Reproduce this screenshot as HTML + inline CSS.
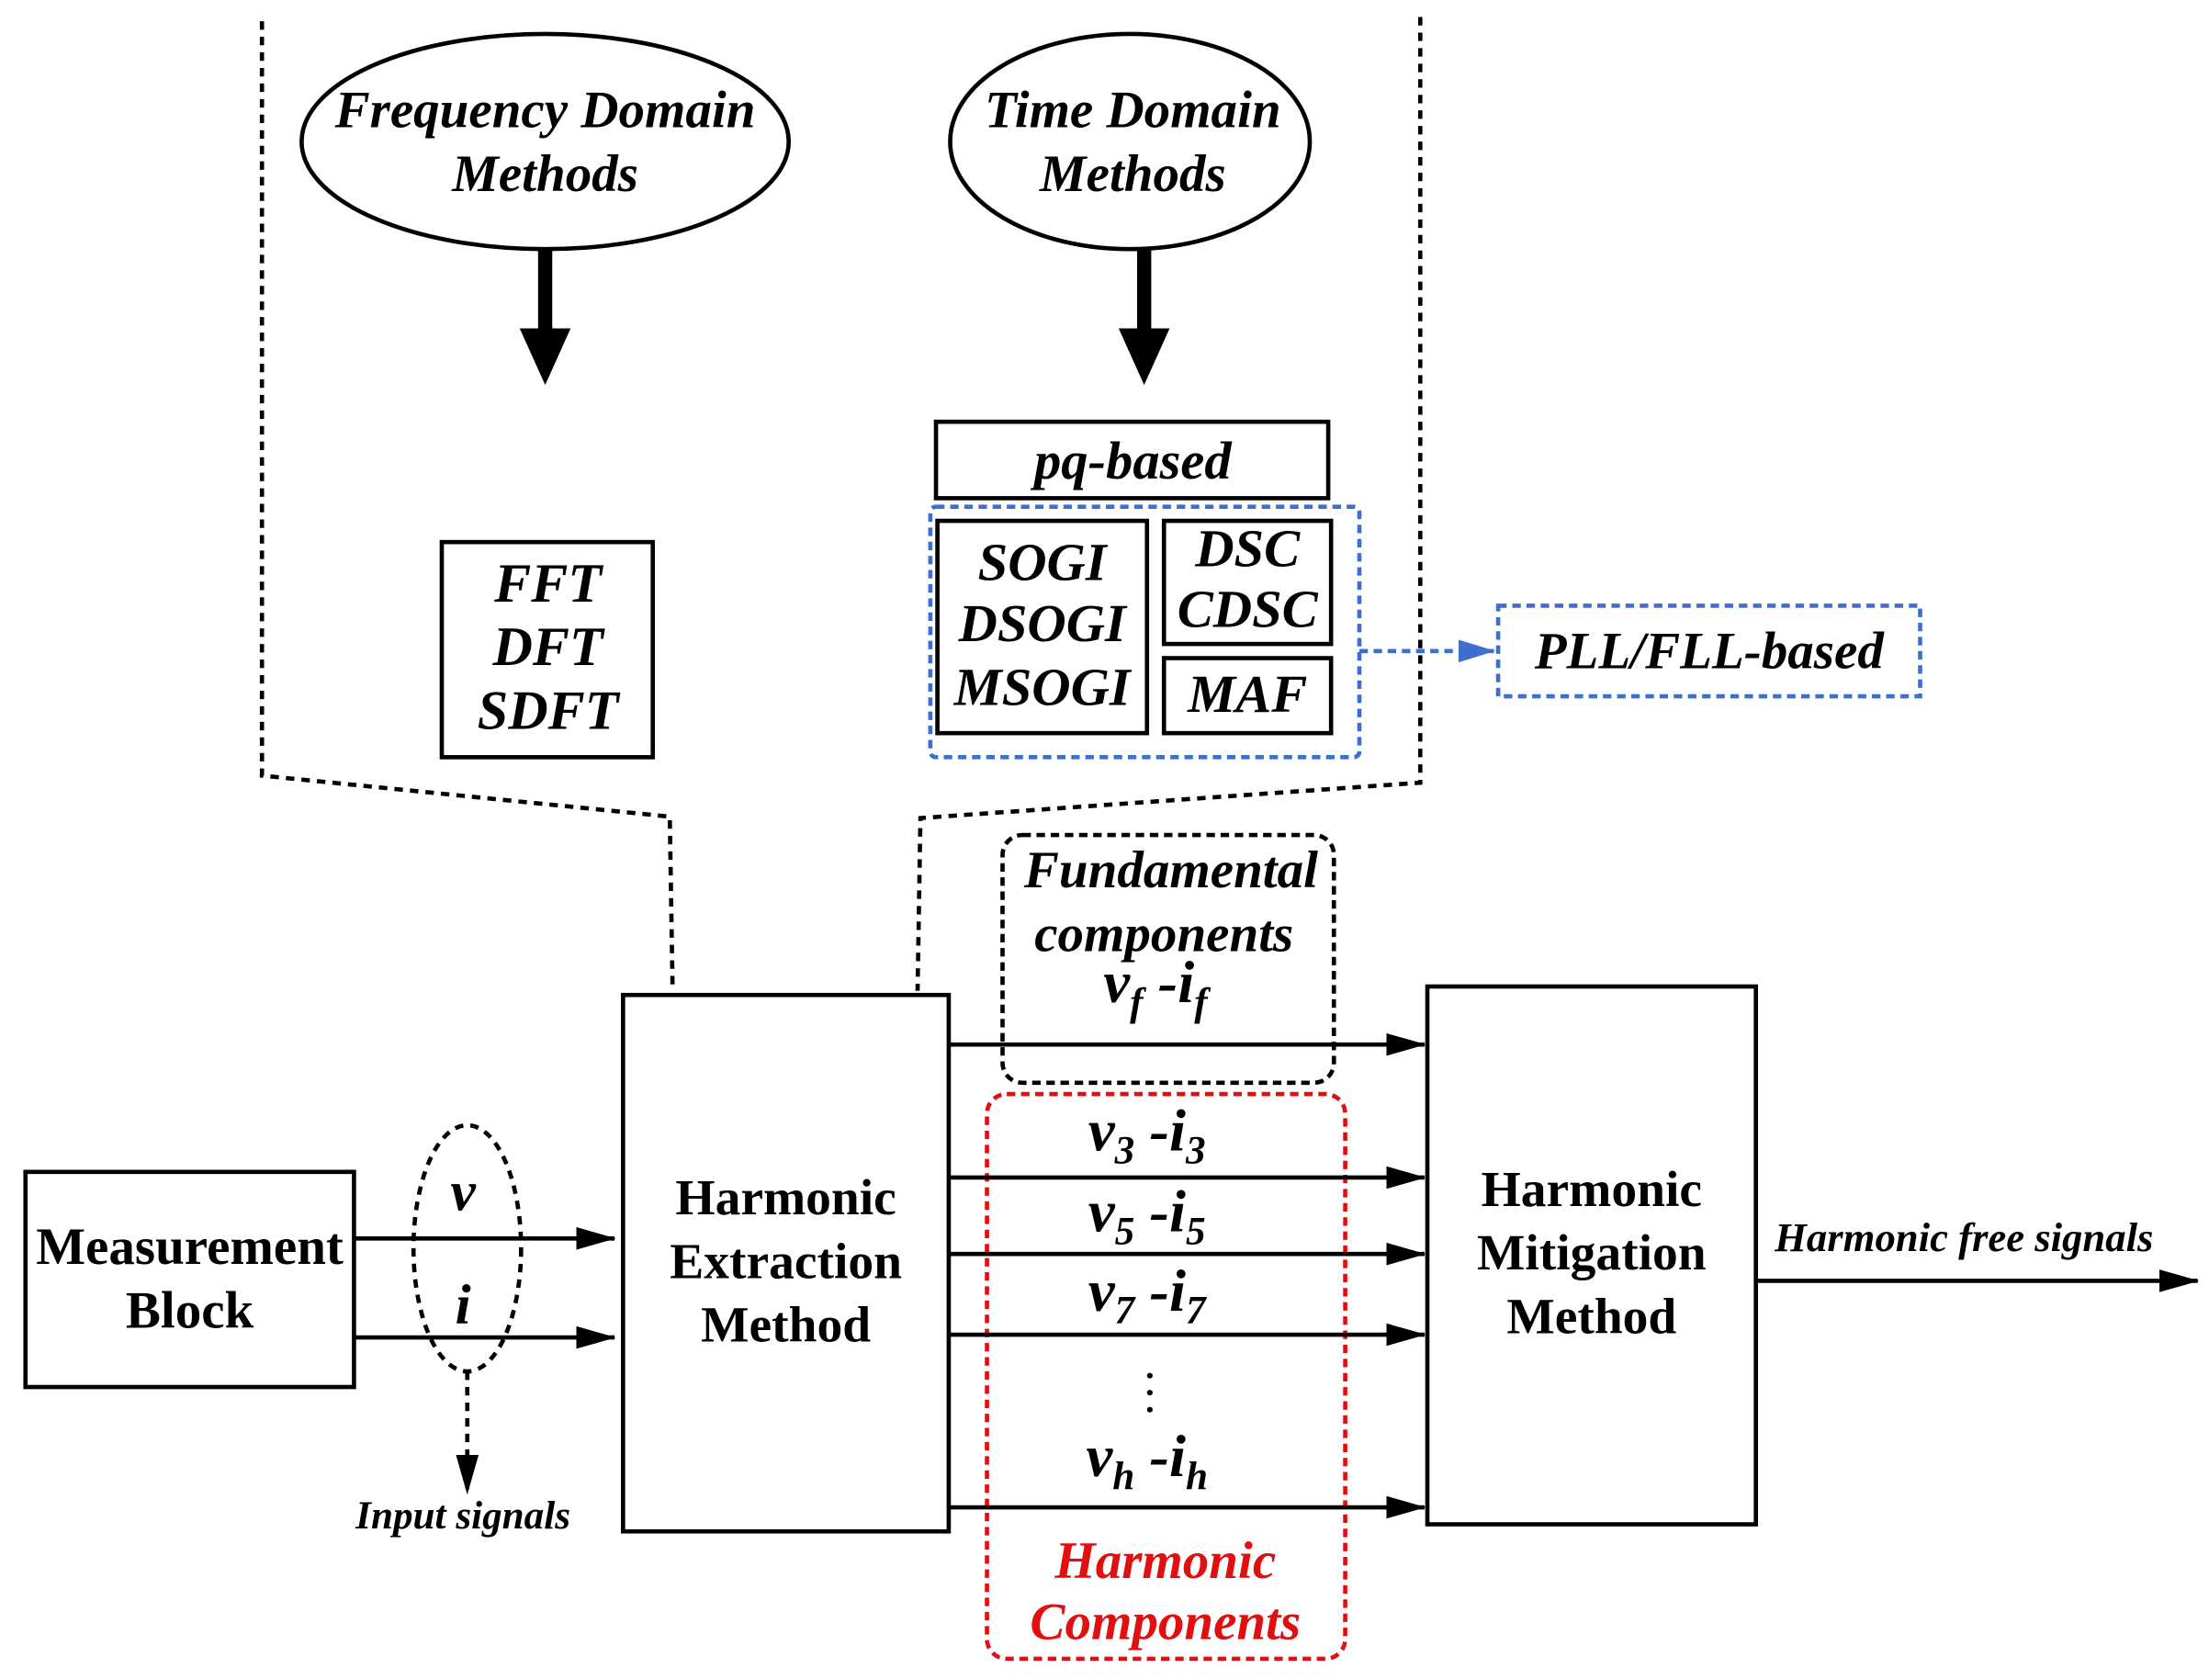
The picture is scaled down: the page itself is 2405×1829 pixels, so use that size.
<!DOCTYPE html>
<html><head><meta charset="utf-8"><style>
html,body{margin:0;padding:0;background:#fff;}
svg{display:block;}
text{font-family:"Liberation Serif",serif;font-weight:bold;fill:#000;}
.it{font-style:italic;}
</style></head><body>
<svg width="2405" height="1829" viewBox="0 0 1560 1187" preserveAspectRatio="none" xmlns="http://www.w3.org/2000/svg">
<defs>
<marker id="ah2" markerWidth="28" markerHeight="16" refX="27" refY="8" orient="auto" markerUnits="userSpaceOnUse"><path d="M0,0 L28,8 L0,16 z" fill="#000"/></marker>
<marker id="ahb" markerWidth="26" markerHeight="16" refX="25" refY="8" orient="auto" markerUnits="userSpaceOnUse"><path d="M0,0 L26,8 L0,16 z" fill="#3d6fd0"/></marker>
</defs>
<g fill="none" stroke="#000" stroke-width="3" stroke-dasharray="6,5">
<polyline points="185,15 185,548 473,577 475,700"/>
<polyline points="1003,12 1003,553 650,578 648,700"/>
</g>
<g fill="none" stroke="#000" stroke-width="3">
<ellipse cx="385" cy="100" rx="172" ry="76"/>
<ellipse cx="798" cy="100" rx="127" ry="76"/>
<rect x="661" y="298" width="277" height="54"/>
<rect x="662" y="368" width="148" height="150"/>
<rect x="822" y="368" width="118" height="87"/>
<rect x="822" y="465" width="118" height="53"/>
<rect x="312" y="383" width="149" height="152"/>
<rect x="18" y="828" width="232" height="152"/>
<rect x="440" y="703" width="230" height="379"/>
<rect x="1008" y="697" width="232" height="380"/>
</g>
<rect x="380" y="175" width="10" height="60" fill="#000"/>
<path d="M367,232 L403,232 L385,272 z" fill="#000"/>
<rect x="803" y="175" width="10" height="60" fill="#000"/>
<path d="M790,232 L826,232 L808,272 z" fill="#000"/>
<g fill="none" stroke="#3d6fd0" stroke-width="3" stroke-dasharray="6,4">
<rect x="657" y="358" width="303" height="177" rx="4"/>
<rect x="1058" y="428" width="298" height="64"/>
<line x1="960" y1="460" x2="1055" y2="460" marker-end="url(#ahb)"/>
</g>
<rect x="708" y="590" width="234" height="175" rx="14" fill="none" stroke="#000" stroke-width="3" stroke-dasharray="6,4"/>
<rect x="697" y="773" width="253" height="399" rx="14" fill="none" stroke="#e01010" stroke-width="3" stroke-dasharray="6,4"/>
<ellipse cx="330" cy="882" rx="38" ry="87" fill="none" stroke="#000" stroke-width="3" stroke-dasharray="6,5"/>
<line x1="330" y1="969" x2="330" y2="1055" stroke="#000" stroke-width="3" stroke-dasharray="6,5" marker-end="url(#ah2)"/>
<g stroke="#000" stroke-width="3" fill="none">
<line x1="250" y1="875" x2="434" y2="875" marker-end="url(#ah2)"/>
<line x1="250" y1="945" x2="434" y2="945" marker-end="url(#ah2)"/>
<line x1="670" y1="738" x2="1006" y2="738" marker-end="url(#ah2)"/>
<line x1="670" y1="832" x2="1006" y2="832" marker-end="url(#ah2)"/>
<line x1="670" y1="886" x2="1006" y2="886" marker-end="url(#ah2)"/>
<line x1="670" y1="943" x2="1006" y2="943" marker-end="url(#ah2)"/>
<line x1="670" y1="1065" x2="1006" y2="1065" marker-end="url(#ah2)"/>
<line x1="1240" y1="905" x2="1552" y2="905" marker-end="url(#ah2)"/>
</g>
<g text-anchor="middle" class="it" font-size="37">
<text x="385" y="90" class="it">Frequency Domain</text>
<text x="385" y="135" class="it">Methods</text>
<text x="800" y="90" class="it">Time Domain</text>
<text x="800" y="135" class="it">Methods</text>
<text x="800" y="338" class="it" font-size="38">pq-based</text>
<text x="736" y="410" class="it" font-size="38">SOGI</text>
<text x="736" y="453" class="it" font-size="38">DSOGI</text>
<text x="736" y="498" class="it" font-size="38">MSOGI</text>
<text x="881" y="400" class="it" font-size="38">DSC</text>
<text x="881" y="443" class="it" font-size="38">CDSC</text>
<text x="881" y="503" class="it" font-size="38">MAF</text>
<text x="1207" y="472" class="it">PLL/FLL-based</text>
<text x="387" y="425" class="it" font-size="39">FFT</text>
<text x="387" y="470" class="it" font-size="39">DFT</text>
<text x="387" y="515" class="it" font-size="39">SDFT</text>
<text x="827" y="627" class="it">Fundamental</text>
<text x="822" y="672" class="it">components</text>
<text x="816" y="708" class="it" font-size="42">v<tspan font-size="28" dy="9">f</tspan><tspan dy="-9"> -i</tspan><tspan font-size="28" dy="9">f</tspan></text>
<text x="810" y="813" class="it" font-size="42">v<tspan font-size="28" dy="9">3</tspan><tspan dy="-9"> -i</tspan><tspan font-size="28" dy="9">3</tspan></text>
<text x="810" y="870" class="it" font-size="42">v<tspan font-size="28" dy="9">5</tspan><tspan dy="-9"> -i</tspan><tspan font-size="28" dy="9">5</tspan></text>
<text x="810" y="926" class="it" font-size="42">v<tspan font-size="28" dy="9">7</tspan><tspan dy="-9"> -i</tspan><tspan font-size="28" dy="9">7</tspan></text>
<text x="810" y="1043" class="it" font-size="42">v<tspan font-size="28" dy="9">h</tspan><tspan dy="-9"> -i</tspan><tspan font-size="28" dy="9">h</tspan></text>
<text x="823" y="1115" class="it" style="fill:#e01010">Harmonic</text>
<text x="823" y="1158" class="it" style="fill:#e01010">Components</text>
<text x="327" y="855" class="it" font-size="40">v</text>
<text x="327" y="935" class="it" font-size="40">i</text>
<text x="327" y="1080" class="it" font-size="28">Input signals</text>
<text x="1387" y="884" class="it" font-size="29">Harmonic free signals</text>
</g>
<g fill="#000"><circle cx="812" cy="972" r="2"/><circle cx="812" cy="984" r="2"/><circle cx="812" cy="996" r="2"/></g>
<g text-anchor="middle" font-size="37">
<text x="134" y="893">Measurement</text>
<text x="134" y="938">Block</text>
</g>
<g text-anchor="middle" font-size="36">
<text x="555" y="858">Harmonic</text>
<text x="555" y="903">Extraction</text>
<text x="555" y="948">Method</text>
<text x="1124" y="852">Harmonic</text>
<text x="1124" y="897">Mitigation</text>
<text x="1124" y="942">Method</text>
</g>
</svg>
</body></html>
